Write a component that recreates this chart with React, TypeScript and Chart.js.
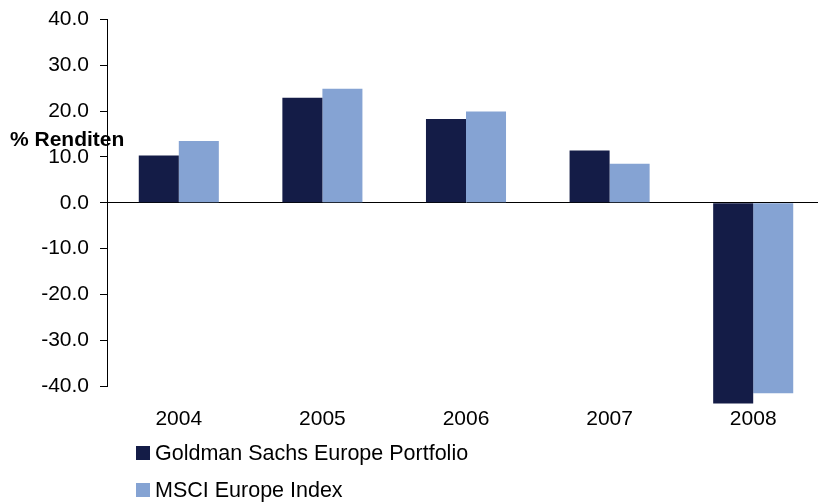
import React, { useEffect, useRef } from "react";
import { Chart, registerables } from "chart.js";

Chart.register(...registerables);

const years = ["2004", "2005", "2006", "2007", "2008"];
const goldman = [10.3, 22.9, 18.3, 11.4, -43.8];
const msci = [13.5, 24.9, 19.9, 8.5, -41.6];
const seriesNames = ["Goldman Sachs Europe Portfolio", "MSCI Europe Index"];
const seriesColors = ["#141c47", "#85a3d3"];
const axisTitle = "% Renditen";
const yMin = -40;
const yMax = 40;
const yStep = 10;

const FONT = "'Liberation Sans', Arial, sans-serif";

const extrasPlugin = {
  id: "extras",
  afterDraw(chart: any) {
    const ctx = chart.ctx;
    ctx.save();
    // axis title
    ctx.fillStyle = "#000";
    ctx.font = `bold 21px ${FONT}`;
    ctx.textAlign = "left";
    ctx.textBaseline = "alphabetic";
    ctx.fillText(axisTitle, 10, 146);
    // legend (vertical)
    ctx.font = `21.5px ${FONT}`;
    chart.data.datasets.forEach((ds: any, i: number) => {
      const base = 460 + i * 37;
      ctx.fillStyle = ds.backgroundColor;
      ctx.fillRect(136, base - 14, 14, 14);
      ctx.fillStyle = "#000";
      ctx.fillText(ds.label, 155, base);
    });
    ctx.restore();
  },
};

export default function App() {
  const ref = useRef<HTMLCanvasElement | null>(null);
  useEffect(() => {
    document.body.style.margin = "0";
    const chart = new Chart(ref.current as HTMLCanvasElement, {
      type: "bar",
      data: {
        labels: years,
        datasets: [
          {
            label: seriesNames[0],
            data: goldman,
            backgroundColor: seriesColors[0],
            categoryPercentage: 0.5575,
            barPercentage: 1,
            clip: false as any,
          },
          {
            label: seriesNames[1],
            data: msci,
            backgroundColor: seriesColors[1],
            categoryPercentage: 0.5575,
            barPercentage: 1,
            clip: false as any,
          },
        ],
      },
      options: {
        animation: false,
        responsive: false,
        devicePixelRatio: 1,
        layout: { padding: { top: 19.5, right: 1, bottom: 0, left: 0 } },
        plugins: {
          legend: { display: false },
          tooltip: { enabled: false },
        },
        scales: {
          x: {
            type: "category",
            offset: true,
            grid: { display: false, drawTicks: false },
            border: { display: false },
            ticks: {
              color: "#000",
              padding: 21,
              font: { family: FONT, size: 21 },
              maxRotation: 0,
            },
            afterFit: (s: any) => {
              s.height = 116;
            },
          },
          y: {
            min: yMin,
            max: yMax,
            ticks: {
              stepSize: yStep,
              color: "#000",
              padding: 11,
              font: { family: FONT, size: 21 },
              callback: (v: any) => Number(v).toFixed(1),
            },
            grid: {
              color: (c: any) => (c.tick && c.tick.value === 0 ? "#000" : "rgba(0,0,0,0)"),
              tickColor: "#000",
              tickLength: 7,
              lineWidth: 1,
            },
            border: { display: true, color: "#000", width: 1 },
            afterFit: (s: any) => {
              s.width = 107;
              s.paddingTop = 0;
              s.paddingBottom = 0;
            },
          },
        },
      },
      plugins: [extrasPlugin],
    });
    return () => chart.destroy();
  }, []);
  return (
    <div
      style={{
        position: "absolute",
        left: 0,
        top: 0,
        width: 818,
        height: 502,
        overflow: "hidden",
        background: "#fff",
      }}
    >
      <canvas ref={ref} width={826} height={502} />
    </div>
  );
}
